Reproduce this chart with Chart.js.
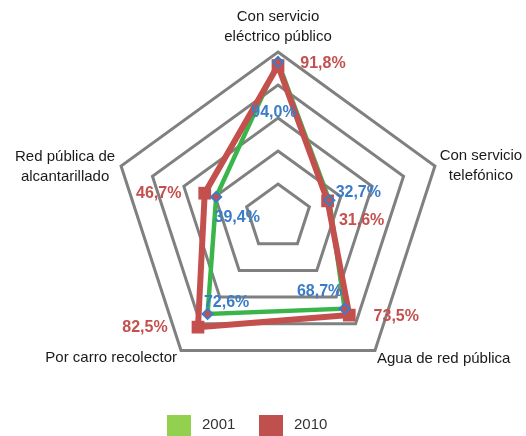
<!DOCTYPE html>
<html>
<head>
<meta charset="utf-8">
<script src="https://cdn.jsdelivr.net/npm/chart.js@4.4.0/dist/chart.umd.min.js"></script>
<style>
  html, body { margin: 0; padding: 0; background: #fff; }
  #wrap { width: 526px; height: 436px; position: relative; }
</style>
</head>
<body>
<div id="wrap"><canvas id="radarChart" width="526" height="436"></canvas></div>
<script>
/* Datos */
const categorias = [
  ["Con servicio", "eléctrico público"],
  ["Con servicio", "telefónico"],
  "Agua de red pública",
  "Por carro recolector",
  ["Red pública de", "alcantarillado"]
];
const anios = ["2001", "2010"];
const valores2001 = [94.0, 32.7, 68.7, 72.6, 39.4];
const valores2010 = [91.8, 31.6, 73.5, 82.5, 46.7];

/* Estilos y posiciones de textos */
const verde = "#3ab54a";
const rojo = "#c4504e";
const azul = "#3a7cc9";
const colorLeyenda = ["#92d050", "#c0504d"];

// posición de los nombres de ejes respecto al vértice exterior
const posEjes = [
  { align: "center", dx: 0, dy: -35 },
  { align: "center", dx: 46, dy: -10 },
  { align: "left", dx: 2, dy: 8 },
  { align: "right", dx: -4, dy: 7 },
  { align: "center", dx: -56, dy: -9 }
];
// desplazamiento de las etiquetas de valor respecto al punto
const desp2001 = [[-4, 51], [29, -8], [-25, -17], [19, -11], [21, 21]];
const desp2010 = [[45, -2], [34, 20], [47, 1], [-53, 0], [-46, 0]];

function fmt(v) {
  return v.toFixed(1).replace(".", ",") + "%";
}

/* 1. Nombres de los ejes */
const etiquetasEjes = {
  id: "etiquetasEjes",
  afterDraw(chart) {
    const r = chart.scales.r;
    const ctx = chart.ctx;
    ctx.save();
    ctx.font = "15px 'Liberation Sans', Arial, sans-serif";
    ctx.fillStyle = "#1a1a1a";
    ctx.textBaseline = "middle";
    categorias.forEach((txt, i) => {
      const p = r.getPointPositionForValue(i, 100);
      const pos = posEjes[i];
      const lineas = Array.isArray(txt) ? txt : [txt];
      ctx.textAlign = pos.align;
      lineas.forEach((l, j) => {
        ctx.fillText(l, p.x + pos.dx, p.y + pos.dy + j * 20);
      });
    });
    ctx.restore();
  }
};

/* 2. Etiquetas de valores */
const etiquetasValores = {
  id: "etiquetasValores",
  afterDatasetsDraw(chart) {
    const ctx = chart.ctx;
    const series = [
      { meta: chart.getDatasetMeta(0), datos: valores2001, desp: desp2001, color: azul },
      { meta: chart.getDatasetMeta(1), datos: valores2010, desp: desp2010, color: rojo }
    ];
    ctx.save();
    ctx.font = "bold 16px 'Liberation Sans', Arial, sans-serif";
    ctx.textAlign = "center";
    ctx.textBaseline = "middle";
    series.forEach(s => {
      ctx.fillStyle = s.color;
      s.meta.data.forEach((pt, i) => {
        ctx.fillText(fmt(s.datos[i]), pt.x + s.desp[i][0], pt.y + s.desp[i][1]);
      });
    });
    ctx.restore();
  }
};

/* 3. Leyenda */
const leyenda = {
  id: "leyenda",
  afterDraw(chart) {
    const ctx = chart.ctx;
    const xs = [167, 259];
    ctx.save();
    ctx.font = "15px 'Liberation Sans', Arial, sans-serif";
    ctx.textBaseline = "middle";
    ctx.textAlign = "left";
    anios.forEach((a, i) => {
      ctx.fillStyle = colorLeyenda[i];
      ctx.fillRect(xs[i], 415, 24, 22);
      ctx.fillStyle = "#333";
      ctx.fillText(a, xs[i] + 35, 425);
    });
    ctx.restore();
  }
};

document.addEventListener("DOMContentLoaded", function () {
  const ctx = document.getElementById("radarChart").getContext("2d");
  new Chart(ctx, {
    type: "radar",
    data: {
      labels: categorias,
      datasets: [
        {
          label: anios[0],
          data: valores2001,
          borderColor: verde,
          borderWidth: 4.5,
          backgroundColor: "transparent",
          pointRadius: 0,
          fill: false,
          order: 3
        },
        {
          label: anios[1],
          data: valores2010,
          borderColor: rojo,
          borderWidth: 6,
          backgroundColor: "transparent",
          pointStyle: "rect",
          pointRadius: 9,
          pointBackgroundColor: rojo,
          pointBorderWidth: 0,
          fill: false,
          order: 2
        },
        {
          // marcadores de 2001 encima de todo
          label: anios[0],
          data: valores2001,
          showLine: false,
          fill: false,
          backgroundColor: "transparent",
          borderColor: "transparent",
          pointStyle: "rectRot",
          pointRadius: 5,
          pointBorderWidth: 2,
          pointBorderColor: azul,
          pointBackgroundColor: rojo,
          order: 1
        }
      ]
    },
    options: {
      responsive: false,
      animation: false,
      layout: { padding: { left: 98, right: 68, top: 52, bottom: 54 } },
      plugins: {
        legend: { display: false },
        tooltip: { enabled: false },
        title: { display: false }
      },
      elements: { line: { tension: 0 } },
      scales: {
        r: {
          min: 0,
          max: 100,
          ticks: { stepSize: 20, display: false },
          grid: { color: "#808080", lineWidth: 3 },
          angleLines: { display: false },
          pointLabels: { display: false }
        }
      }
    },
    plugins: [etiquetasEjes, etiquetasValores, leyenda]
  });
});
</script>
</body>
</html>
